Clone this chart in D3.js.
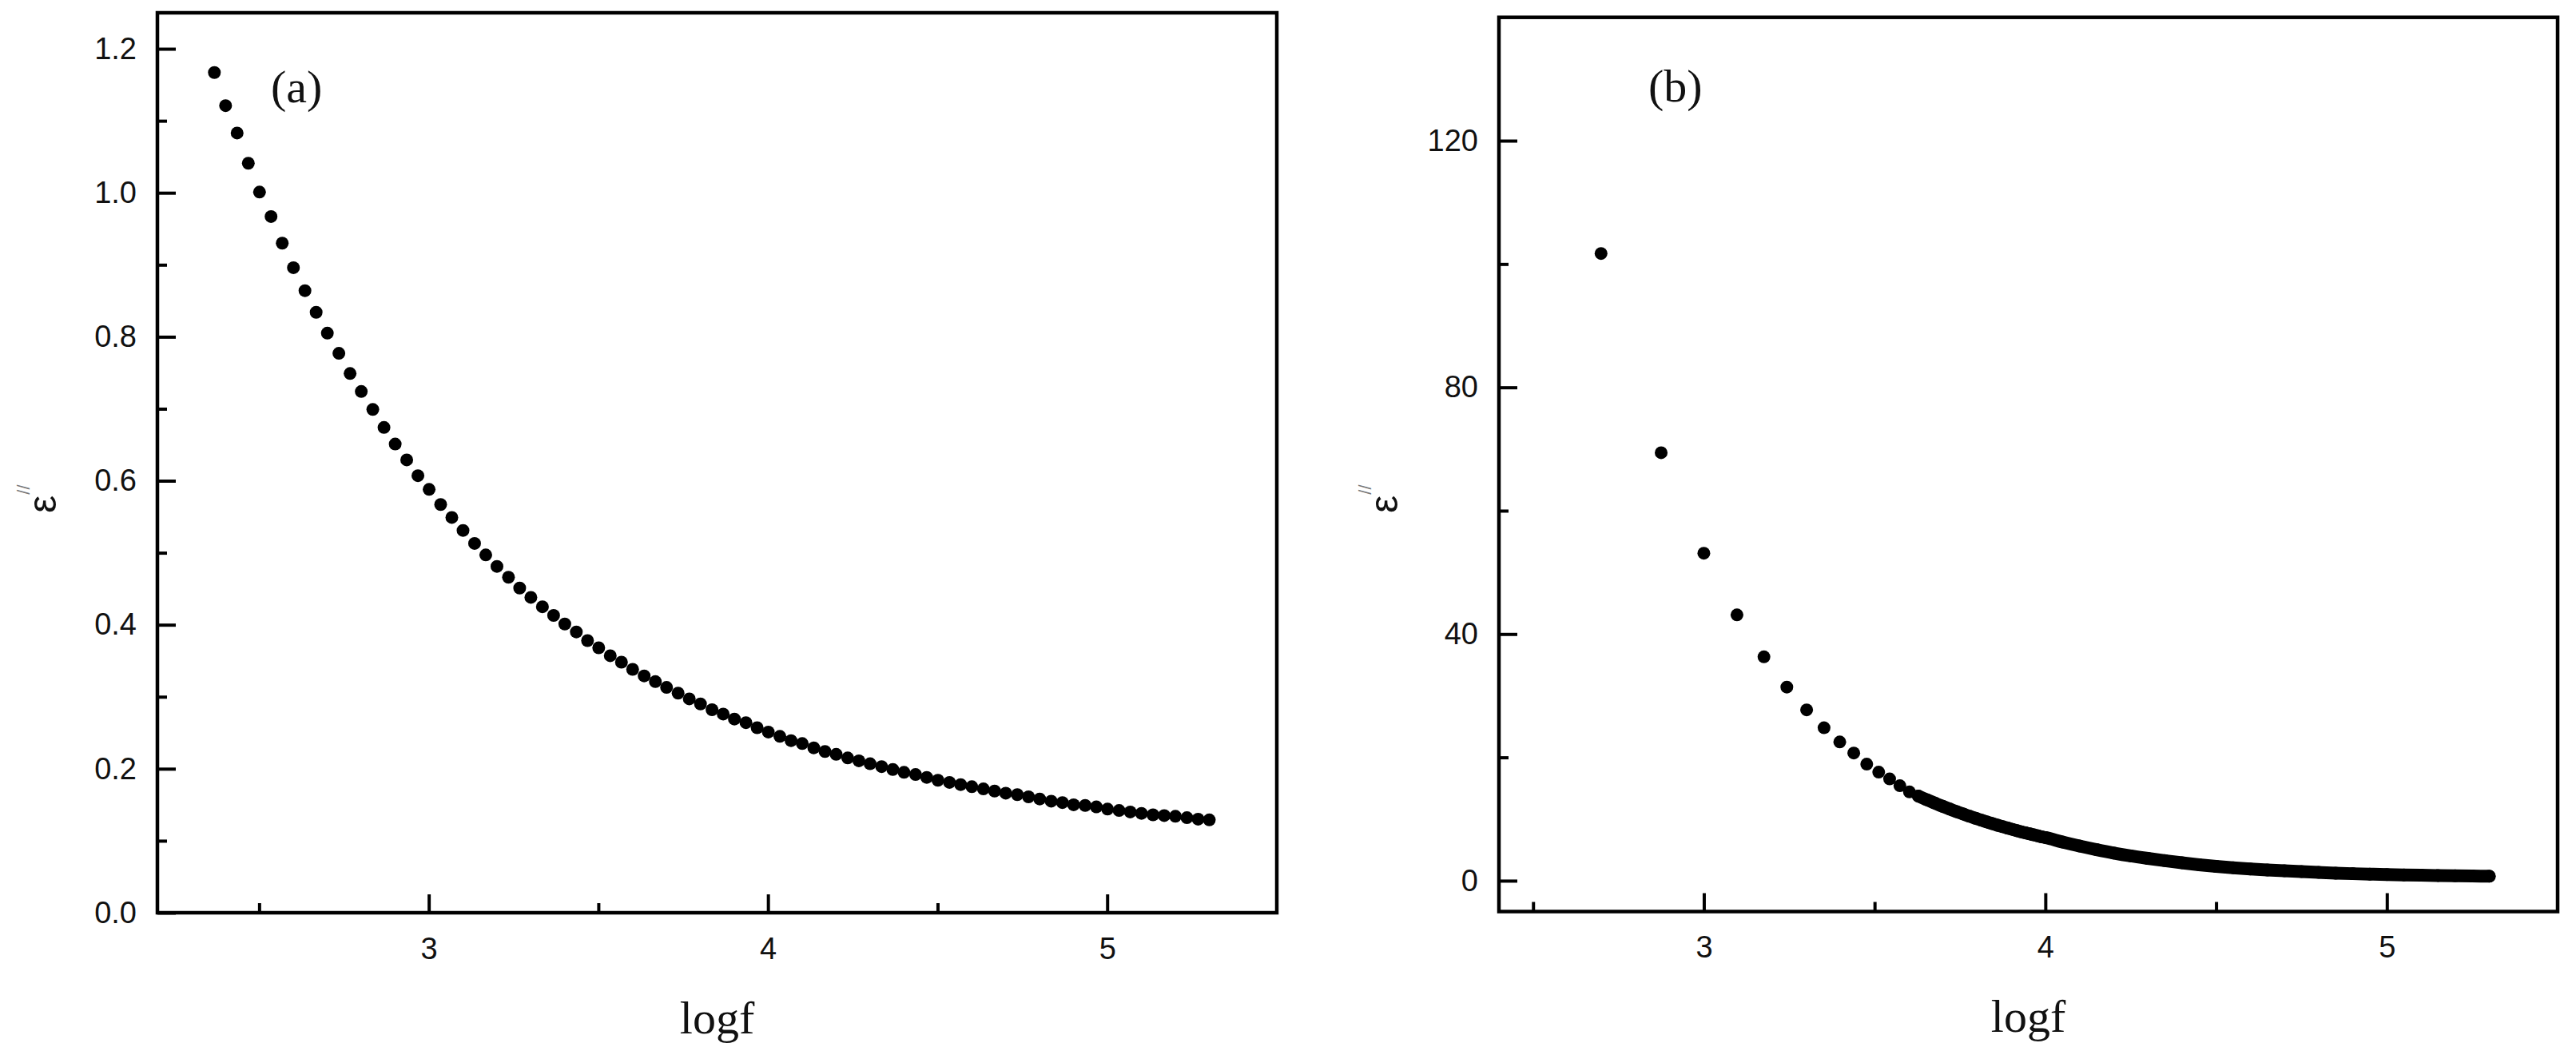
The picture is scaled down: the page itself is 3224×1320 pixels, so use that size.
<!DOCTYPE html>
<html>
<head>
<meta charset="utf-8">
<script src="https://cdn.jsdelivr.net/npm/d3@7"></script>
<style>
  html, body { margin: 0; padding: 0; background: #fff; }
  svg { display: block; }
</style>
</head>
<body>
<script>
// ---------- Data ----------
// Panel (a): logf and epsilon''
const logfA = [2.368, 2.401, 2.435, 2.468, 2.501, 2.535, 2.568, 2.601, 2.635, 2.668,
  2.701, 2.735, 2.768, 2.801, 2.835, 2.868, 2.901, 2.935, 2.968, 3.001,
  3.035, 3.068, 3.101, 3.135, 3.168, 3.201, 3.235, 3.268, 3.301, 3.335,
  3.368, 3.401, 3.435, 3.468, 3.501, 3.535, 3.568, 3.601, 3.635, 3.668,
  3.701, 3.735, 3.768, 3.801, 3.835, 3.868, 3.901, 3.935, 3.968, 4.001,
  4.035, 4.068, 4.101, 4.135, 4.168, 4.201, 4.235, 4.268, 4.301, 4.335,
  4.368, 4.401, 4.435, 4.468, 4.501, 4.535, 4.568, 4.601, 4.635, 4.668,
  4.701, 4.735, 4.768, 4.801, 4.835, 4.868, 4.901, 4.935, 4.968, 5.001,
  5.035, 5.068, 5.101, 5.135, 5.168, 5.201, 5.235, 5.268, 5.301];
const epsA = [1.167, 1.121, 1.083, 1.041, 1.001, 0.967, 0.930, 0.896, 0.864, 0.834,
  0.805, 0.777, 0.749, 0.724, 0.699, 0.674, 0.651, 0.629, 0.607, 0.588,
  0.567, 0.549, 0.531, 0.513, 0.497, 0.481, 0.466, 0.451, 0.438, 0.425,
  0.413, 0.401, 0.390, 0.378, 0.368, 0.357, 0.348, 0.338, 0.329, 0.321,
  0.313, 0.305, 0.297, 0.290, 0.282, 0.276, 0.269, 0.264, 0.257, 0.251,
  0.245, 0.239, 0.235, 0.229, 0.224, 0.220, 0.215, 0.211, 0.207, 0.203,
  0.199, 0.195, 0.192, 0.188, 0.184, 0.181, 0.178, 0.175, 0.172, 0.169,
  0.166, 0.164, 0.161, 0.158, 0.155, 0.153, 0.150, 0.149, 0.147, 0.144,
  0.142, 0.140, 0.138, 0.136, 0.135, 0.134, 0.132, 0.130, 0.129];

// Panel (b): logf and epsilon''
const logfB = [2.699, 2.875, 3.000, 3.097, 3.176, 3.243, 3.301, 3.352, 3.398, 3.439,
  3.477, 3.512, 3.544, 3.574, 3.602, 3.628, 3.653, 3.677, 3.699, 3.720,
  3.740, 3.760, 3.778, 3.796, 3.813, 3.829, 3.845, 3.860, 3.875, 3.889,
  3.903, 3.916, 3.929, 3.942, 3.954, 3.966, 3.978, 3.989, 4.000,
  4.05, 4.10, 4.15, 4.20, 4.25, 4.30, 4.35, 4.40, 4.45, 4.50,
  4.55, 4.60, 4.65, 4.70, 4.75, 4.80, 4.85, 4.90, 4.95, 5.00,
  5.05, 5.10, 5.15, 5.20, 5.25, 5.30];
const epsB = [101.7, 69.4, 53.1, 43.1, 36.3, 31.4, 27.7, 24.8, 22.5, 20.7,
  18.9, 17.6, 16.5, 15.4, 14.4, 13.73, 13.12, 12.57, 12.07, 11.62,
  11.20, 10.81, 10.45, 10.12, 9.81, 9.52, 9.25, 9.00, 8.76, 8.54,
  8.33, 8.13, 7.94, 7.76, 7.59, 7.43, 7.27, 7.12, 7.00,
  6.27, 5.62, 5.03, 4.49, 4.02, 3.62, 3.25, 2.91, 2.59, 2.32,
  2.10, 1.90, 1.74, 1.61, 1.47, 1.34, 1.22, 1.14, 1.07, 1.00,
  0.945, 0.892, 0.843, 0.80, 0.765, 0.73];

// Ticks
const xMajorTicks = [3, 4, 5];
const xMinorTicks = [2.5, 3.5, 4.5];
const yMajorTicksA = [0.0, 0.2, 0.4, 0.6, 0.8, 1.0, 1.2];
const yMinorTicksA = [0.1, 0.3, 0.5, 0.7, 0.9, 1.1];
const yMajorTicksB = [0, 40, 80, 120];
const yMinorTicksB = [20, 60, 100];
const panelLabels = ["(a)", "(b)"];
const xTitle = "logf";

// ---------- Drawing ----------
const W = 3224, H = 1320;
const svg = d3.select("body").append("svg").attr("width", W).attr("height", H);

const SANS = "'Liberation Sans', Arial, sans-serif";
const SERIF = "'Liberation Serif', 'Times New Roman', serif";

function panel(cfg) {
  const g = svg.append("g");
  const x = d3.scaleLinear().domain(cfg.xDomain).range([cfg.left, cfg.right]);
  const y = d3.scaleLinear().domain(cfg.yDomain).range([cfg.bottom, cfg.top]);

  // minor ticks
  g.append("g").attr("transform", `translate(0,${cfg.bottom})`)
    .call(d3.axisBottom(x).tickValues(xMinorTicks).tickSize(-12).tickFormat(""));
  g.append("g").attr("transform", `translate(${cfg.left},0)`)
    .call(d3.axisLeft(y).tickValues(cfg.yMinor).tickSize(-12).tickFormat(""));
  // major ticks
  g.append("g").attr("transform", `translate(0,${cfg.bottom})`)
    .call(d3.axisBottom(x).tickValues(xMajorTicks).tickSize(-23).tickPadding(31).tickFormat(d3.format("d")));
  g.append("g").attr("transform", `translate(${cfg.left},0)`)
    .call(d3.axisLeft(y).tickValues(cfg.yMajor).tickSize(-23).tickPadding(26).tickFormat(cfg.yFormat));

  g.selectAll(".domain").remove();
  g.selectAll(".tick line").attr("stroke", "#000").attr("stroke-width", 4);
  g.selectAll(".tick text").attr("fill", "#111").style("font-family", SANS).style("font-size", "38px");

  // frame
  g.append("rect")
    .attr("x", cfg.left).attr("y", cfg.top)
    .attr("width", cfg.right - cfg.left).attr("height", cfg.bottom - cfg.top)
    .attr("fill", "none").attr("stroke", "#000").attr("stroke-width", 4.5);

  const pts = cfg.xs.map((v, i) => ({ x: v, y: cfg.ys[i] }));

  if (cfg.bandFrom != null) {
    const band = pts.filter(p => p.x >= cfg.bandFrom);
    g.append("path")
      .datum(band)
      .attr("d", d3.line().x(p => x(p.x)).y(p => y(p.y)).curve(d3.curveMonotoneX))
      .attr("fill", "none").attr("stroke", "#000")
      .attr("stroke-width", 16).attr("stroke-linecap", "round").attr("stroke-linejoin", "round");
  }

  g.append("g").selectAll("circle").data(pts).join("circle")
    .attr("cx", p => x(p.x)).attr("cy", p => y(p.y)).attr("r", 8).attr("fill", "#000");

  // panel label
  g.append("text").attr("x", cfg.labelX).attr("y", cfg.labelY)
    .style("font-family", SERIF).style("font-size", "58px").attr("fill", "#111")
    .text(cfg.label);

  // x title
  g.append("text").attr("x", (cfg.left + cfg.right) / 2).attr("y", cfg.xTitleY)
    .attr("text-anchor", "middle")
    .style("font-family", SERIF).style("font-size", "58px").attr("fill", "#111")
    .text(xTitle);

  // y title epsilon''
  const yt = g.append("text")
    .attr("transform", `translate(${cfg.left - 127},642) rotate(-90)`)
    .style("font-family", SANS).attr("fill", "#111");
  yt.append("tspan").style("font-size", "50px").text("ε");
  yt.append("tspan").attr("dy", -33).attr("dx", 1).style("font-size", "22px").attr("fill", "#777").text("//");
}

panel({
  left: 197, right: 1598, top: 16, bottom: 1142,
  xDomain: [2.2, 5.5], yDomain: [0, 1.25],
  yMajor: yMajorTicksA, yMinor: yMinorTicksA, yFormat: d3.format(".1f"),
  xs: logfA, ys: epsA, bandFrom: null,
  label: panelLabels[0], labelX: 339, labelY: 128, xTitleY: 1293
});

panel({
  left: 1876, right: 3201, top: 21.7, bottom: 1140.5,
  xDomain: [2.4, 5.5], yDomain: [-5, 140],
  yMajor: yMajorTicksB, yMinor: yMinorTicksB, yFormat: d3.format("d"),
  xs: logfB, ys: epsB, bandFrom: 3.62,
  label: panelLabels[1], labelX: 2063, labelY: 127, xTitleY: 1291
});
</script>
</body>
</html>
